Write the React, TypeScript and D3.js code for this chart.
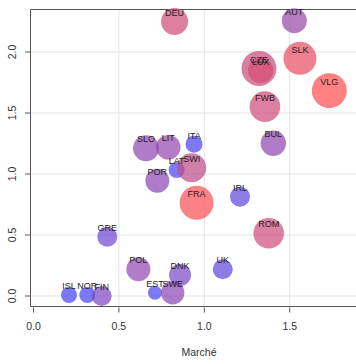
import React from "react";
import * as d3 from "d3";

const countries = ["DEU","AUT","SLK","CZE","LUX","VLG","FWB","BUL","ITA","SLO","LIT","LAT","SWI","POR","FRA","IRL","ROM","UK","DNK","SWE","EST","POL","GRE","ISL","NOR","FIN"];
const marche = [0.826,1.527,1.56,1.32,1.33,1.732,1.355,1.404,0.94,0.659,0.789,0.838,0.926,0.725,0.955,1.209,1.377,1.108,0.858,0.815,0.711,0.614,0.432,0.208,0.315,0.399];
const yValues = [2.25,2.257,1.948,1.865,1.85,1.683,1.552,1.252,1.243,1.211,1.219,1.033,1.052,0.945,0.765,0.814,0.514,0.219,0.172,0.027,0.027,0.219,0.486,0.008,0.008,0.0];
const sizes = [13.5,12.5,16.5,17.5,12.7,17.5,15.3,12.7,8.5,13,12.3,8,14.5,12,17,10,15.3,10,11,11.7,7,12,10,8,8,10];
const colorT = [0.75,0.45,0.88,0.72,0.78,1.0,0.74,0.4,0.05,0.4,0.42,0.05,0.65,0.38,0.96,0.15,0.74,0.15,0.28,0.38,0.05,0.42,0.22,0.0,0.0,0.3];
const xTicks = [0, 0.5, 1.0, 1.5];
const yTicks = [0, 0.5, 1.0, 1.5, 2.0];
const xGrid = [0.5, 1.0, 1.5, 2.0];
const xLabel = "Marché";

const W = 356, H = 364;
const x = d3.scaleLinear().domain([0, 1.5]).range([33.5, 289.7]);
const y = d3.scaleLinear().domain([0, 2]).range([296, 52]);
const r = d3.scaleLinear().domain([0, 20]).range([0, 20]);
const col = d3.scaleLinear<string>().domain([0, 1]).range(["#4646f5", "#ff5050"]).interpolate(d3.interpolateRgb);

const box = { left: 30.5, top: 9.5, right: 370, bottom: 306.5 };
const font = "'Liberation Sans', Arial, Helvetica, sans-serif";

export default function App() {
  const pts = countries.map((c, i) => ({ c, x: marche[i], y: yValues[i], s: sizes[i], t: colorT[i] }));
  return (
    <div>
      <style>{"body{margin:0}"}</style>
      <svg width={W} height={H} style={{ display: "block" }} fontFamily={font}>
        <rect x={0} y={0} width={W} height={H} fill="#fff" />
        {yTicks.map((v) => (
          <line key={"gy" + v} x1={box.left} x2={box.right} y1={y(v)} y2={y(v)} stroke="#e3e3e3" strokeWidth={1} />
        ))}
        {xGrid.map((v) => (
          <line key={"gx" + v} x1={x(v)} x2={x(v)} y1={box.top} y2={box.bottom} stroke="#e3e3e3" strokeWidth={1} />
        ))}
        <path d={`M${box.right},${box.top}H${box.left}V${box.bottom}H${box.right}`} fill="none" stroke="#555" strokeWidth={1} />
        {xTicks.map((v) => (
          <g key={"xt" + v}>
            <line x1={x(v)} x2={x(v)} y1={307.5} y2={312.5} stroke="#555" />
            <text x={x(v)} y={330} textAnchor="middle" fontSize={10.5} fill="#333">{v.toFixed(1)}</text>
          </g>
        ))}
        {yTicks.map((v) => (
          <g key={"yt" + v}>
            <line x1={25} x2={box.left} y1={y(v)} y2={y(v)} stroke="#555" />
            <text transform={`translate(16,${y(v)}) rotate(-90)`} textAnchor="middle" fontSize={10.5} fill="#333">{v.toFixed(1)}</text>
          </g>
        ))}
        <text x={199} y={356} textAnchor="middle" fontSize={10.5} fill="#333">{xLabel}</text>
        <g>
          {pts.map((p) => (
            <circle key={"c" + p.c} cx={x(p.x)} cy={y(p.y)} r={r(p.s)} fill={col(p.t)} fillOpacity={0.72} />
          ))}
        </g>
        <g>
          {pts.map((p) => (
            <text key={"l" + p.c} x={x(p.x)} y={y(p.y) - 5.8} textAnchor="middle" fontSize={9} fill="#222">{p.c}</text>
          ))}
        </g>
      </svg>
    </div>
  );
}
